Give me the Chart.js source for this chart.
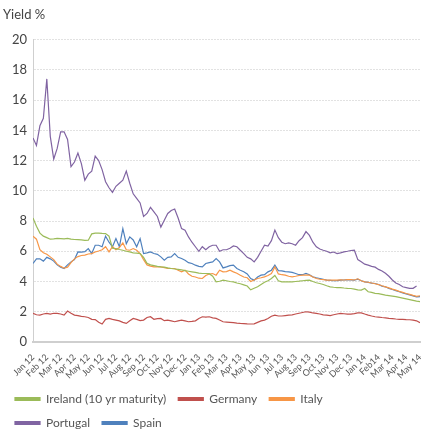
<!DOCTYPE html>
<html>
<head>
<meta charset="utf-8">
<script src="https://cdn.jsdelivr.net/npm/chart.js@4.4.1/dist/chart.umd.min.js"></script>
<style>
  html, body { margin: 0; padding: 0; background: #fff; }
  #wrap { width: 430px; height: 443px; }
</style>
</head>
<body>
<div id="wrap"><canvas id="yieldChart"></canvas></div>
<script>
// month tick labels (Jan 12 .. May 14)
const months = ['Jan 12', 'Feb 12', 'Mar 12', 'Apr 12', 'May 12', 'Jun 12', 'Jul 12', 'Aug 12', 'Sep 12', 'Oct 12', 'Nov 12', 'Dec 12',
    'Jan 13', 'Feb 13', 'Mar 13', 'Apr 13', 'May 13', 'Jun 13', 'Jul 13', 'Aug 13', 'Sep 13', 'Oct 13', 'Nov 13', 'Dec 13',
    'Jan 14', 'Feb14', 'Mar 14', 'Apr 14', 'May 14'];

// weekly readings, 4 per month starting Jan 12
const weeksPerMonth = 4;

const ireland = [
    8.2, 7.65, 7.2, 7.0, 6.9, 6.8, 6.82, 6.85, 6.84, 6.82,
    6.85, 6.8, 6.78, 6.77, 6.75, 6.72, 6.73, 7.15, 7.2, 7.2,
    7.18, 7.17, 7.0, 6.2, 6.18, 6.12, 6.07, 6.0, 5.96, 5.9,
    5.88, 5.85, 5.6, 5.2, 5.1, 5.05, 5.0, 4.97, 4.95, 4.9,
    4.86, 4.83, 4.8, 4.77, 4.72, 4.68, 4.64, 4.6, 4.55, 4.53,
    4.53, 4.52, 4.35, 3.98, 4.02, 4.09, 4.05, 4.0, 3.98, 3.9,
    3.85, 3.78, 3.7, 3.45, 3.55, 3.65, 3.8, 3.95, 4.05, 4.2,
    4.4, 4.05, 3.98, 3.98, 3.98, 3.98, 4.0, 4.02, 4.05, 4.07,
    4.09, 4.0, 3.92, 3.87, 3.8, 3.72, 3.65, 3.62, 3.6, 3.6,
    3.57, 3.55, 3.54, 3.5, 3.45, 3.43, 3.54, 3.32, 3.28, 3.22,
    3.2, 3.15, 3.1, 3.07, 3.04, 3.0, 2.95, 2.9, 2.85, 2.8,
    2.75, 2.7, 2.67
];

const germany = [
    1.9, 1.8, 1.78, 1.85, 1.89, 1.85, 1.9, 1.89, 1.85, 1.78,
    2.05, 1.9, 1.78, 1.75, 1.7, 1.67, 1.62, 1.5, 1.48, 1.3,
    1.19, 1.5, 1.56, 1.5, 1.45, 1.4, 1.3, 1.23, 1.4, 1.56,
    1.5, 1.41, 1.45, 1.62, 1.67, 1.5, 1.55, 1.56, 1.41, 1.45,
    1.4, 1.34, 1.4, 1.45, 1.4, 1.34, 1.36, 1.4, 1.55, 1.67,
    1.65, 1.67, 1.6, 1.56, 1.45, 1.34, 1.32, 1.3, 1.28, 1.25,
    1.23, 1.22, 1.2, 1.19, 1.2, 1.3, 1.4, 1.45, 1.55, 1.7,
    1.78, 1.72, 1.72, 1.75, 1.78, 1.8, 1.85, 1.9, 1.95, 2.0,
    1.98, 1.92, 1.89, 1.85, 1.8, 1.78, 1.75, 1.8, 1.85, 1.89,
    1.87, 1.85, 1.85, 1.88, 1.93, 1.93, 1.85, 1.78, 1.72, 1.67,
    1.65, 1.62, 1.6, 1.56, 1.55, 1.52, 1.5, 1.5, 1.48, 1.47,
    1.45, 1.4, 1.28
];

const italy = [
    7.0, 6.8, 6.1, 5.9, 5.8, 5.63, 5.45, 5.15, 5.0, 4.88,
    4.95, 5.25, 5.5, 5.65, 5.72, 5.75, 5.82, 5.85, 5.95, 6.02,
    6.1, 6.3, 5.96, 6.3, 6.1, 6.25, 6.55, 6.1, 6.07, 6.18,
    6.07, 5.85, 5.45, 5.1, 5.02, 4.97, 4.97, 4.97, 4.92, 4.86,
    4.86, 4.86, 4.75, 4.64, 4.75, 4.5, 4.35, 4.3, 4.22, 4.2,
    4.4, 4.5, 4.53, 4.42, 4.75, 4.64, 4.66, 4.75, 4.64, 4.55,
    4.42, 4.3, 4.25, 4.0, 4.1, 4.2, 4.25, 4.31, 4.4, 4.53,
    4.97, 4.5, 4.45, 4.42, 4.35, 4.31, 4.35, 4.4, 4.42, 4.42,
    4.42, 4.3, 4.2, 4.15, 4.12, 4.09, 4.1, 4.09, 4.09, 4.11,
    4.1, 4.13, 4.12, 4.1, 4.18, 4.05, 3.98, 3.95, 3.9, 3.85,
    3.8, 3.72, 3.65, 3.58, 3.5, 3.43, 3.35, 3.28, 3.21, 3.15,
    3.08, 3.02, 3.06
];

const portugal = [
    13.5, 13.0, 14.3, 14.8, 17.4, 13.6, 12.1, 12.8, 13.9, 13.9,
    13.4, 11.6, 11.9, 12.5, 11.8, 10.7, 11.1, 11.3, 12.3, 12.0,
    11.4, 10.6, 10.2, 9.9, 10.3, 10.5, 10.7, 11.3, 10.5, 9.8,
    9.5, 9.2, 8.3, 8.5, 8.9, 8.6, 8.3, 7.6, 8.05, 8.5,
    8.7, 8.8, 8.2, 7.5, 7.4, 6.95, 6.6, 6.3, 6.0, 6.3,
    6.1, 6.3, 6.4, 6.4, 6.0, 6.1, 6.1, 6.2, 6.35, 6.3,
    6.07, 5.85, 5.6, 5.5, 5.3, 5.6, 6.0, 6.4, 6.35, 6.7,
    7.4, 6.9, 6.6, 6.5, 6.55, 6.5, 6.4, 6.7, 6.9, 7.3,
    7.05, 6.6, 6.3, 6.15, 6.07, 6.0, 5.9, 5.95, 5.85, 5.9,
    5.96, 6.0, 6.05, 6.07, 5.45, 5.3, 5.15, 5.08, 5.0, 4.95,
    4.8, 4.7, 4.55, 4.35, 4.1, 3.9, 3.8, 3.65, 3.6, 3.55,
    3.55, 3.7, null
];

const spain = [
    5.2, 5.5, 5.5, 5.35, 5.6, 5.5, 5.35, 5.1, 4.95, 4.86,
    5.1, 5.3, 5.45, 5.96, 5.95, 5.98, 6.18, 5.85, 6.4, 6.4,
    6.3, 7.0, 6.6, 6.3, 6.84, 6.3, 7.5, 6.5, 6.95, 6.75,
    6.3, 6.84, 5.85, 5.9, 5.96, 5.85, 5.8, 5.63, 5.41, 5.6,
    5.63, 5.85, 5.6, 5.52, 5.41, 5.25, 5.19, 5.08, 5.0, 4.97,
    5.19, 5.25, 5.3, 5.52, 5.3, 4.9, 4.97, 5.05, 5.08, 4.86,
    4.75, 4.65, 4.5, 4.2, 4.09, 4.3, 4.42, 4.45, 4.64, 4.75,
    5.08, 4.72, 4.7, 4.66, 4.64, 4.6, 4.53, 4.45, 4.45, 4.53,
    4.45, 4.31, 4.25, 4.2, 4.15, 4.09, 4.08, 4.05, 4.06, 4.09,
    4.1, 4.13, 4.1, 4.09, 4.15, 4.05, 3.98, 3.94, 3.9, 3.87,
    3.8, 3.7, 3.65, 3.55, 3.47, 3.4, 3.32, 3.24, 3.18, 3.12,
    3.05, 2.98, 3.0
];

const yTicks = [0, 2, 4, 6, 8, 10, 12, 14, 16, 18, 20];

const toPoints = (arr) => arr.map((v, i) => ({ x: i / weeksPerMonth, y: v }));

function serie(label, data, color) {
    return {
        label: label,
        data: toPoints(data),
        borderColor: color,
        backgroundColor: color,
        borderWidth: 1.2,
        pointRadius: 0,
        tension: 0,
        spanGaps: false
    };
}

const fonte = 'Lato, "Open Sans", sans-serif';

new Chart(document.getElementById('yieldChart'), {
    type: 'line',
    data: {
        datasets: [
            serie('Ireland (10 yr maturity)', ireland, '#9bbb59'),
            serie('Germany', germany, '#c0504d'),
            serie('Italy', italy, '#f79646'),
            serie('Portugal', portugal, '#8064a2'),
            serie('Spain', spain, '#4f81bd')
        ]
    },
    options: {
        responsive: true,
        maintainAspectRatio: false,
        animation: false,
        layout: {
            padding: { left: 3, right: 10, top: 0, bottom: 4 }
        },
        scales: {
            x: {
                type: 'linear',
                min: 0,
                max: months.length - 1,
                grid: { display: false },
                border: { display: true, color: '#cfcfcf', width: 2 },
                afterFit: (axis) => { axis.height = 39; },
                ticks: {
                    stepSize: 1,
                    autoSkip: false,
                    maxRotation: 45,
                    minRotation: 45,
                    padding: 2,
                    color: '#555',
                    font: { family: fonte, size: 9 },
                    callback: (value) => months[value]
                }
            },
            y: {
                min: yTicks[0],
                max: yTicks[yTicks.length - 1],
                grid: { color: '#e2e2e2', drawTicks: false },
                border: { display: true, color: '#cfcfcf', width: 1, dash: [2, 1] },
                afterFit: (axis) => { axis.width = 30; },
                afterBuildTicks: (axis) => {
                    axis.ticks = yTicks.map(v => ({ value: v }));
                },
                ticks: {
                    padding: 6,
                    color: '#444',
                    font: { family: fonte, size: 13 }
                }
            }
        },
        plugins: {
            title: {
                display: true,
                text: 'Yield %',
                align: 'start',
                color: '#444',
                font: { family: fonte, size: 13, weight: 'normal' },
                padding: { top: 7, bottom: 17 }
            },
            legend: {
                display: true,
                position: 'bottom',
                align: 'start',
                labels: {
                    boxWidth: 25,
                    boxHeight: 3,
                    padding: 12,
                    color: '#555',
                    font: { family: fonte, size: 12 }
                }
            },
            tooltip: { enabled: false }
        }
    }
});
</script>
</body>
</html>
